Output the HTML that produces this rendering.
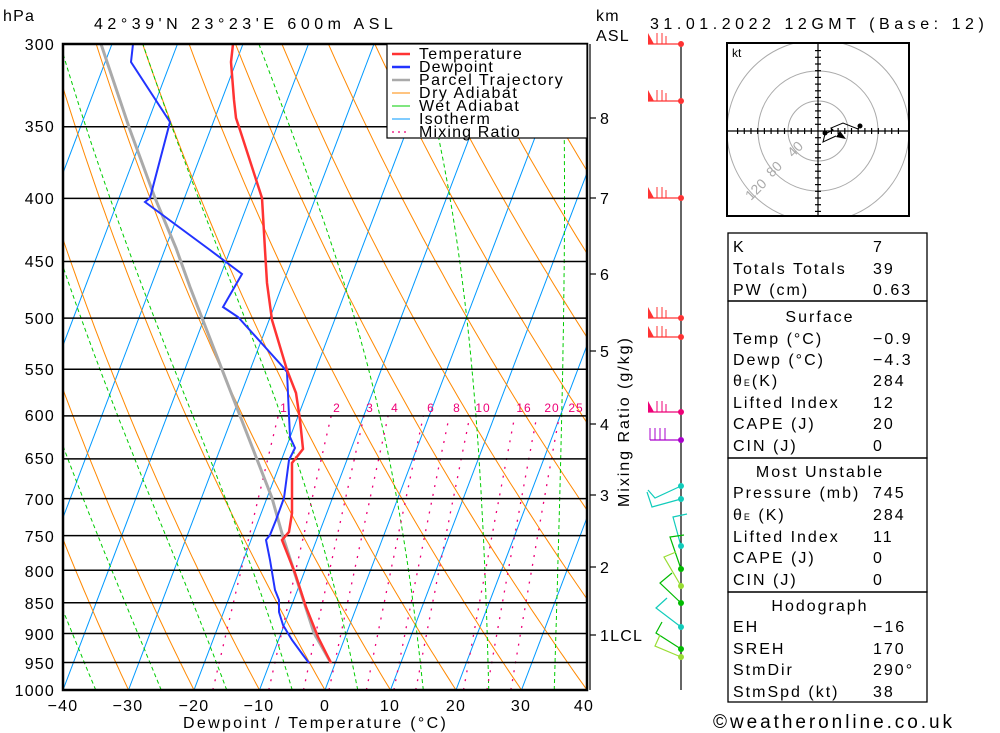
<!DOCTYPE html>
<html><head><meta charset="utf-8"><style>
body{margin:0;background:#fff}
svg{display:block;font-family:"Liberation Sans",sans-serif}
.t{font-size:16px;letter-spacing:1.2px}
.r{font-size:16px;letter-spacing:2px}
</style></head><body>
<svg id="s" width="1000" height="733" viewBox="0 0 1000 733" xmlns="http://www.w3.org/2000/svg">
<defs><clipPath id="cp"><rect x="63" y="44" width="524" height="646"/></clipPath>
<clipPath id="hc"><rect x="728" y="44" width="180" height="171"/></clipPath></defs>
<g id="bg" clip-path="url(#cp)"></g>
<g id="fg" clip-path="url(#cp)"></g>
<rect x="63" y="44" width="524" height="646" fill="none" stroke="#000" stroke-width="2.5"/>
<!-- legend -->
<rect x="387" y="44" width="200" height="94" fill="#fff" stroke="#000" stroke-width="1.2"/>
<g class="t" font-size="15">
<line x1="392" y1="54" x2="410" y2="54" stroke="#f33" stroke-width="2.5"/><text x="419" y="59" textLength="104">Temperature</text>
<line x1="392" y1="67" x2="410" y2="67" stroke="#23f" stroke-width="2.5"/><text x="419" y="72" textLength="75">Dewpoint</text>
<line x1="392" y1="80" x2="410" y2="80" stroke="#aaa" stroke-width="2.5"/><text x="419" y="85" textLength="145">Parcel Trajectory</text>
<line x1="392" y1="93" x2="410" y2="93" stroke="#f80" stroke-width="1"/><text x="419" y="98" textLength="99">Dry Adiabat</text>
<line x1="392" y1="106" x2="410" y2="106" stroke="#0c0" stroke-width="1"/><text x="419" y="111" textLength="101">Wet Adiabat</text>
<line x1="392" y1="119" x2="410" y2="119" stroke="#09f" stroke-width="1"/><text x="419" y="124" textLength="72">Isotherm</text>
<line x1="392" y1="132" x2="410" y2="132" stroke="#e07" stroke-width="1.2" stroke-dasharray="2,4"/><text x="419" y="137" textLength="102">Mixing Ratio</text>
</g>
<!-- header -->
<text x="3" y="21" class="t">hPa</text>
<text x="94" y="29" class="t" font-size="18" textLength="300" lengthAdjust="spacing">42°39'N  23°23'E  600m  ASL</text>
<text x="596" y="21" class="t">km</text>
<text x="596" y="41" class="t">ASL</text>
<text x="650" y="29" class="t" font-size="18" textLength="335" lengthAdjust="spacing">31.01.2022  12GMT  (Base: 12)</text>
<!-- pressure labels -->
<g class="t" text-anchor="end">
<text x="55" y="50">300</text><text x="55" y="132">350</text><text x="55" y="204">400</text><text x="55" y="267">450</text><text x="55" y="324">500</text><text x="55" y="375">550</text><text x="55" y="421">600</text><text x="55" y="464">650</text><text x="55" y="505">700</text><text x="55" y="542">750</text><text x="55" y="577">800</text><text x="55" y="609">850</text><text x="55" y="640">900</text><text x="55" y="669">950</text><text x="55" y="696">1000</text>
</g>
<g class="t" text-anchor="middle">
<text x="63" y="711">−40</text><text x="128" y="711">−30</text><text x="194" y="711">−20</text><text x="259" y="711">−10</text><text x="325" y="711">0</text><text x="390" y="711">10</text><text x="456" y="711">20</text><text x="521" y="711">30</text><text x="584" y="711">40</text>
</g>
<text x="183" y="728" class="t" font-size="18" textLength="264" lengthAdjust="spacing">Dewpoint / Temperature (°C)</text>
<g font-size="12" fill="#e07" text-anchor="middle" letter-spacing="1">
<text x="284" y="412">1</text><text x="337" y="412">2</text><text x="370" y="412">3</text><text x="395" y="412">4</text><text x="431" y="412">6</text><text x="457" y="412">8</text><text x="483" y="412">10</text><text x="524" y="412">16</text><text x="552" y="412">20</text><text x="576" y="412">25</text>
</g>
<!-- km axis -->
<line x1="590" y1="44" x2="590" y2="690" stroke="#000" stroke-width="1.2"/>
<g stroke="#000" stroke-width="1.2">
<line x1="590" y1="118" x2="596" y2="118"/><line x1="590" y1="198" x2="596" y2="198"/><line x1="590" y1="274" x2="596" y2="274"/><line x1="590" y1="351" x2="596" y2="351"/><line x1="590" y1="424" x2="596" y2="424"/><line x1="590" y1="495" x2="596" y2="495"/><line x1="590" y1="567" x2="596" y2="567"/><line x1="590" y1="635" x2="596" y2="635"/>
</g>
<g class="t">
<text x="600" y="124">8</text><text x="600" y="204">7</text><text x="600" y="280">6</text><text x="600" y="357">5</text><text x="600" y="430">4</text><text x="600" y="501">3</text><text x="600" y="573">2</text><text x="600" y="641">1LCL</text>
<text transform="translate(629,422) rotate(-90)" text-anchor="middle" textLength="170" lengthAdjust="spacing">Mixing Ratio (g/kg)</text>
</g>
<!-- wind axis -->
<line x1="681" y1="44" x2="681" y2="690" stroke="#000" stroke-width="1.2"/>
<g id="wind"></g>
<!-- hodograph -->
<rect x="727" y="43" width="182" height="173" fill="#fff" stroke="#000" stroke-width="2"/>
<g clip-path="url(#hc)" fill="none" stroke="#aaa" stroke-width="1">
<circle cx="818" cy="131" r="30"/><circle cx="818" cy="131" r="60"/><circle cx="818" cy="131" r="91"/>
</g>
<g id="hod" stroke="#000" stroke-width="1.2"></g>
<text x="732" y="57" font-size="12">kt</text>
<g font-size="14" fill="#aaa">
<text transform="translate(793,158) rotate(-45)">40</text><text transform="translate(772,178) rotate(-45)">80</text><text transform="translate(751,201) rotate(-45)">120</text>
</g>
<polyline points="825,134 833,130 831,128 843,123 858,129 860,126" fill="none" stroke="#000" stroke-width="1"/>
<polyline points="825,134 823,142 836,136" fill="none" stroke="#000" stroke-width="1"/>
<polygon points="836,137 846,139 840,131" fill="#000"/>
<circle cx="825" cy="133" r="2.5"/><circle cx="860" cy="126" r="2.5"/>
<!-- tables -->
<g fill="none" stroke="#000" stroke-width="1.3">
<rect x="728" y="233" width="199" height="68"/>
<rect x="728" y="301" width="199" height="157"/>
<rect x="728" y="458" width="199" height="134"/>
<rect x="728" y="592" width="199" height="110"/>
</g>
<g class="r">
<text x="733" y="252">K</text><text x="873" y="252">7</text>
<text x="733" y="274">Totals Totals</text><text x="873" y="274">39</text>
<text x="733" y="295">PW (cm)</text><text x="873" y="295">0.63</text>
<text x="820" y="322" text-anchor="middle">Surface</text>
<text x="733" y="344">Temp (°C)</text><text x="873" y="344">−0.9</text>
<text x="733" y="365">Dewp (°C)</text><text x="873" y="365">−4.3</text>
<text x="733" y="386">θ<tspan font-size="9">E</tspan>(K)</text><text x="873" y="386">284</text>
<text x="733" y="408">Lifted Index</text><text x="873" y="408">12</text>
<text x="733" y="429">CAPE (J)</text><text x="873" y="429">20</text>
<text x="733" y="451">CIN (J)</text><text x="873" y="451">0</text>
<text x="820" y="477" text-anchor="middle">Most Unstable</text>
<text x="733" y="498">Pressure (mb)</text><text x="873" y="498">745</text>
<text x="733" y="520">θ<tspan font-size="9">E</tspan> (K)</text><text x="873" y="520">284</text>
<text x="733" y="542">Lifted Index</text><text x="873" y="542">11</text>
<text x="733" y="563">CAPE (J)</text><text x="873" y="563">0</text>
<text x="733" y="585">CIN (J)</text><text x="873" y="585">0</text>
<text x="820" y="611" text-anchor="middle">Hodograph</text>
<text x="733" y="632">EH</text><text x="873" y="632">−16</text>
<text x="733" y="654">SREH</text><text x="873" y="654">170</text>
<text x="733" y="675">StmDir</text><text x="873" y="675">290°</text>
<text x="733" y="697">StmSpd (kt)</text><text x="873" y="697">38</text>
</g>
<text x="713" y="728" font-size="19" textLength="239" lengthAdjust="spacing">©weatheronline.co.uk</text>
</svg>
<script>
var NS="http://www.w3.org/2000/svg";
function el(p,n,a){var e=document.createElementNS(NS,n);for(var k in a)e.setAttribute(k,a[k]);p.appendChild(e);return e;}
var L=Math.log(1000/300),SK=0.38;
function Y(p){return 690-Math.log(1000/p)/L*646;}
function X(T,p){return 63+(T+40)*6.55+(690-Y(p))*SK;}
var bg=document.getElementById('bg'),fg=document.getElementById('fg');
function pl(g,pts,a){a.points=pts.map(function(q){return q[0].toFixed(1)+','+q[1].toFixed(1)}).join(' ');a.fill='none';return el(g,'polyline',a);}
for(var T=-130;T<=40;T+=10){pl(bg,[[X(T,1000),Y(1000)],[X(T,300),Y(300)]],{stroke:'#09f','stroke-width':1});}
for(var th=-40;th<=170;th+=10){var pts=[];for(var p=1000;p>=300;p-=10){var t=(th+273.15)*Math.pow(p/1000,0.2857)-273.15;pts.push([X(t,p),Y(p)]);}pl(bg,pts,{stroke:'#f80','stroke-width':1});}
function es(t){return 6.112*Math.exp(17.67*t/(t+243.5));}
function gm(t,p){var T=t+273.15,e=es(t),r=0.622*e/(p-e),Lv=2.5e6;var num=287*T+Lv*r,den=1004+Lv*Lv*r*0.622/(287*T*T);return num/den/p;}
for(var tw=-45;tw<=35;tw+=10){var t=tw,pts=[[X(t,1000),Y(1000)]];for(var p=1000;p>300;p-=5){t-=gm(t,p)*5;pts.push([X(t,p-5),Y(p-5)]);}pl(bg,pts,{stroke:'#0c0','stroke-width':1,'stroke-dasharray':'4,3'});}
[1,2,3,4,6,8,10,16,20,25].forEach(function(w){var pts=[];for(var p=1000;p>=600;p-=10){var e=w*p/(622+w),a=Math.log(e/6.112),t=243.5*a/(17.67-a);pts.push([X(t,p),Y(p)]);}pl(bg,pts,{stroke:'#e07','stroke-width':1.3,'stroke-dasharray':'2,7'});});
[300,350,400,450,500,550,600,650,700,750,800,850,900,950].forEach(function(p){el(fg,'line',{x1:63,x2:587,y1:Y(p),y2:Y(p),stroke:'#000','stroke-width':1.5});});
pl(fg,[[101,44],[130,130],[155,198],[176,248],[190,287],[230,390],[272,498],[283,537],[314,633],[331,663]],{stroke:'#aaa','stroke-width':3});
pl(fg,[[133,44],[131,62],[170,122],[150,198],[145,202],[210,250],[242,274],[223,307],[238,317],[283,367],[287,372],[290,437],[295,448],[289,460],[284,498],[276,520],[270,535],[266,540],[270,560],[275,590],[279,600],[279,612],[283,625],[292,640],[303,655],[309,663]],{stroke:'#23f','stroke-width':2});
pl(fg,[[233,44],[231,62],[234,100],[236,118],[240,130],[262,198],[265,250],[267,283],[272,320],[287,370],[296,393],[300,420],[303,449],[296,458],[292,463],[292,513],[289,532],[282,540],[295,573],[306,607],[318,637],[331,663]],{stroke:'#f33','stroke-width':2.5});
var w=document.getElementById('wind');
function flag(y,c){pl(w,[[681,y],[648,y]],{stroke:c,'stroke-width':1.2});el(w,'polygon',{points:'648,'+y+' 648,'+(y-11)+' 654,'+y,fill:c});pl(w,[[657,y],[657,y-11]],{stroke:c});pl(w,[[662,y],[662,y-11]],{stroke:c});pl(w,[[666,y],[666,y-8]],{stroke:c});}
[[44,'#f33'],[101,'#f33'],[198,'#f33'],[318,'#f33'],[337,'#f33'],[412,'#e07']].forEach(function(a){flag(a[0],a[1]);el(w,'circle',{cx:681,cy:a[0],r:3,fill:a[1]});});
pl(w,[[681,440],[650,440]],{stroke:'#a0c','stroke-width':1.2});[650,655,660,665].forEach(function(x){pl(w,[[x,440],[x,428]],{stroke:'#a0c'});});el(w,'circle',{cx:681,cy:440,r:3,fill:'#a0c'});
var g2=[[486,'#1cb',[[681,486],[655,498],[648,490]]],[499,'#1cb',[[681,499],[652,507],[647,492]]],[546,'#1cb',[[681,546],[673,517],[687,514]]],[569,'#0b0',[[681,569],[670,537],[684,535]]],[586,'#9d3',[[681,586],[664,557],[676,552]]],[603,'#0b0',[[681,603],[660,583],[672,573]]],[627,'#1cb',[[681,627],[656,608],[667,598]]],[649,'#0b0',[[681,649],[656,633],[662,622]]],[657,'#9d3',[[681,657],[655,646],[660,635]]]];
g2.forEach(function(a){pl(w,a[2],{stroke:a[1],'stroke-width':1.2});el(w,'circle',{cx:681,cy:a[0],r:3,fill:a[1]});});
var h=document.getElementById('hod');
el(h,'line',{x1:727,x2:909,y1:131,y2:131});el(h,'line',{x1:818,x2:818,y1:43,y2:216});
for(var i=-12;i<=12;i++){if(!i)continue;el(h,'line',{x1:818+i*6.7,x2:818+i*6.7,y1:128,y2:134});el(h,'line',{x1:815,x2:821,y1:131+i*6.7,y2:131+i*6.7});}
</script>
</body></html>
